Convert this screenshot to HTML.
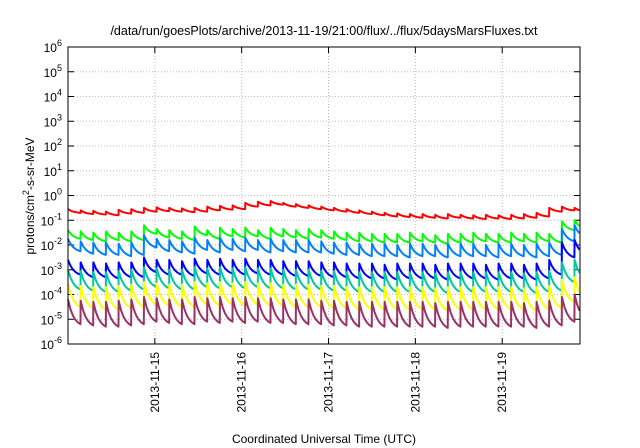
<!DOCTYPE html>
<html><head><meta charset="utf-8"><style>
body{margin:0;background:#fff;font-family:"Liberation Sans",sans-serif}
svg{display:block}
</style></head><body>
<svg id="c" width="640" height="448" xmlns="http://www.w3.org/2000/svg" font-family="Liberation Sans, sans-serif"></svg>
<script>
const tickExps=[6,5,4,3,2,1,0,-1,-2,-3,-4,-5,-6];
const dayLabels=["2013-11-15","2013-11-16","2013-11-17","2013-11-18","2013-11-19"];
const dayHours=[24,48,72,96,120];
const period=3.5;
const seriesNames=["red","green","lightblue","blue","teal","yellow","purple"];
const seriesColors=["#ff0000","#00ff00","#0080ff","#0000ff","#00c8a0","#ffff00","#993366"];
const amps=[0.15,0.35,0.5,0.6,0.8,0.9,1.0];
const redPeaks=[-0.55,-0.6,-0.62,-0.65,-0.58,-0.55,-0.5,-0.48,-0.5,-0.52,-0.5,-0.45,-0.42,-0.4,-0.3,-0.25,-0.22,-0.3,-0.35,-0.4,-0.45,-0.5,-0.55,-0.6,-0.65,-0.7,-0.72,-0.75,-0.75,-0.78,-0.75,-0.78,-0.8,-0.78,-0.8,-0.78,-0.75,-0.7,-0.5,-0.45,-0.5];
const greenPeaks=[-1.4,-1.45,-1.5,-1.45,-1.5,-1.45,-1.2,-1.35,-1.4,-1.45,-1.25,-1.4,-1.3,-1.35,-1.3,-1.4,-1.3,-1.35,-1.4,-1.35,-1.4,-1.45,-1.5,-1.5,-1.55,-1.55,-1.55,-1.5,-1.55,-1.6,-1.55,-1.55,-1.5,-1.55,-1.55,-1.5,-1.55,-1.5,-1.55,-1.05,-1.0];
const lbPeaks=[-1.75,-1.85,-1.9,-1.9,-1.95,-1.9,-1.6,-1.75,-1.8,-1.85,-1.7,-1.8,-1.7,-1.75,-1.7,-1.8,-1.75,-1.8,-1.8,-1.8,-1.85,-1.9,-1.9,-1.95,-1.95,-1.95,-2.0,-1.95,-1.95,-2.0,-1.95,-1.95,-1.95,-2.0,-1.95,-1.95,-2.0,-1.95,-1.9,-1.35,-1.2];
const bluePeaks=[-2.6,-2.7,-2.7,-2.75,-2.7,-2.7,-2.5,-2.6,-2.6,-2.65,-2.55,-2.6,-2.55,-2.6,-2.55,-2.6,-2.6,-2.65,-2.65,-2.65,-2.7,-2.7,-2.75,-2.75,-2.75,-2.8,-2.75,-2.75,-2.75,-2.8,-2.75,-2.75,-2.75,-2.8,-2.75,-2.75,-2.8,-2.75,-2.6,-1.9,-1.8];
const tealPeaks=[-3.0,-3.05,-3.1,-3.1,-3.05,-3.0,-2.9,-2.95,-3.0,-3.0,-2.9,-2.95,-2.9,-2.95,-2.9,-2.95,-2.95,-3.0,-3.0,-3.0,-3.05,-3.05,-3.1,-3.1,-3.1,-3.1,-3.1,-3.1,-3.1,-3.15,-3.1,-3.1,-3.1,-3.1,-3.1,-3.1,-3.15,-3.1,-3.05,-2.7,-2.6];
const yellowPeaks=[-3.6,-3.65,-3.7,-3.7,-3.65,-3.6,-3.5,-3.55,-3.6,-3.6,-3.5,-3.55,-3.5,-3.55,-3.5,-3.55,-3.55,-3.6,-3.6,-3.6,-3.65,-3.65,-3.7,-3.7,-3.7,-3.7,-3.7,-3.7,-3.7,-3.75,-3.7,-3.7,-3.7,-3.7,-3.7,-3.7,-3.75,-3.7,-3.65,-3.4,-3.3];
const purplePeaks=[-4.2,-4.25,-4.3,-4.3,-4.25,-4.2,-4.1,-4.15,-4.2,-4.2,-4.1,-4.15,-4.1,-4.15,-4.1,-4.15,-4.15,-4.2,-4.2,-4.2,-4.25,-4.25,-4.3,-4.3,-4.3,-4.3,-4.3,-4.3,-4.3,-4.35,-4.3,-4.3,-4.3,-4.3,-4.3,-4.3,-4.35,-4.3,-4.25,-4.1,-4.0];
const allPeaks=[redPeaks,greenPeaks,lbPeaks,bluePeaks,tealPeaks,yellowPeaks,purplePeaks];

const svg=document.getElementById('c');
const NS="http://www.w3.org/2000/svg";
const L=68,R=580,T=47,B=344,H0=0,H1=141.5;
const xs=h=>L+(h-H0)/(H1-H0)*(R-L);
const ys=e=>T+(6-e)/12*(B-T);
function mk(tag,attrs,parent){const e=document.createElementNS(NS,tag);for(const k in attrs)e.setAttribute(k,attrs[k]);(parent||svg).appendChild(e);return e;}

const title=mk('text',{x:324,y:35,'text-anchor':'middle','font-size':12.5});
title.textContent="/data/run/goesPlots/archive/2013-11-19/21:00/flux/../flux/5daysMarsFluxes.txt";



const grid=mk('g',{stroke:'#bbb','stroke-dasharray':'1,2','stroke-width':1});


tickExps.forEach(e=>{if(e<6&&e>-6)mk('line',{x1:L,x2:R,y1:ys(e),y2:ys(e)},grid);});
dayHours.forEach(h=>mk('line',{x1:xs(h),x2:xs(h),y1:T,y2:B},grid));

const yt=mk('g',{});


tickExps.forEach(e=>{
  const y=ys(e);
  mk('line',{x1:L,x2:L+6,y1:y,y2:y,stroke:'#000'},yt);
  mk('line',{x1:R,x2:R-6,y1:y,y2:y,stroke:'#000'},yt);
  const t=mk('text',{x:L-6,y:y+5,'text-anchor':'end','font-size':12},yt);
  t.innerHTML='10<tspan dy="-6" font-size="9">'+e+'</tspan>';
  
  
});
const xt=mk('g',{});


dayHours.forEach((h,i)=>{
  const x=xs(h);
  mk('line',{x1:x,x2:x,y1:B,y2:B-6,stroke:'#000'},xt);
  mk('line',{x1:x,x2:x,y1:T,y2:T+6,stroke:'#000'},xt);
  const t=mk('text',{x:0,y:0,'text-anchor':'end','font-size':12,transform:'translate('+(x+4)+','+(B+8)+') rotate(-90)'},xt);
  t.textContent=dayLabels[i];
  
  
});

const series=mk('g',{fill:'none','stroke-width':2,'stroke-linejoin':'round'});


const K=2.2, norm=1-Math.exp(-K);
allPeaks.forEach((pk,si)=>{
  let pts=[];
  for(let i=0;i<pk.length;i++){
    const t0=i*period;
    if(t0>H1)break;
    const t1=Math.min((i+1)*period,H1);
    const steps=5;
    for(let s=0;s<=steps;s++){
      const f=s/steps;
      const t=t0+(period-0.05)*f;
      if(t>t1)break;
      const v=pk[i]-amps[si]*(1-Math.exp(-K*f))/norm;
      pts.push(xs(t).toFixed(2)+','+ys(v).toFixed(2));
    }
  }
  const p=mk('polyline',{points:pts.join(' '),stroke:seriesColors[si]},series);
  
  
});

const frame=mk('rect',{x:L,y:T,width:R-L,height:B-T,fill:'none',stroke:'#000','stroke-width':1});



const yl=mk('text',{x:0,y:0,'text-anchor':'middle','font-size':12,transform:'translate(34,196) rotate(-90)'});
yl.innerHTML='protons/cm<tspan dy="-5" font-size="9">2</tspan><tspan dy="5">-s-sr-MeV</tspan>';



const xl=mk('text',{x:324,y:443,'text-anchor':'middle','font-size':12});
xl.textContent="Coordinated Universal Time (UTC)";


</script>
</body></html>
